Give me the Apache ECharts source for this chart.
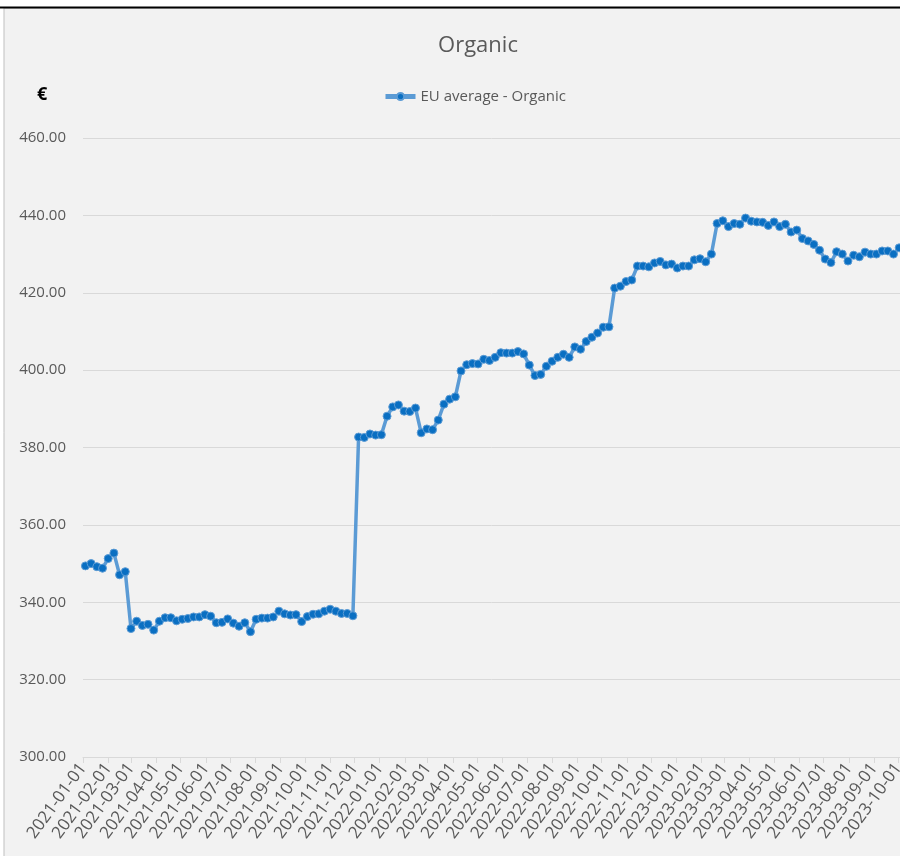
<!DOCTYPE html>
<html><head><meta charset="utf-8">
<script src="https://cdn.jsdelivr.net/npm/echarts@6/dist/echarts.min.js"></script>
<style>html,body{margin:0;padding:0;background:#fff}#c{width:900px;height:856px}</style>
</head><body><div id="c"></div>
<script>
const weeks2021 = ["2021-01-04","2021-01-11","2021-01-18","2021-01-25","2021-02-01","2021-02-08","2021-02-15","2021-02-22","2021-03-01","2021-03-08","2021-03-15","2021-03-22","2021-03-29","2021-04-05","2021-04-12","2021-04-19","2021-04-26","2021-05-03","2021-05-10","2021-05-17","2021-05-24","2021-05-31","2021-06-07","2021-06-14","2021-06-21","2021-06-28","2021-07-05","2021-07-12","2021-07-19","2021-07-26","2021-08-02","2021-08-09","2021-08-16","2021-08-23","2021-08-30","2021-09-06","2021-09-13","2021-09-20","2021-09-27","2021-10-04","2021-10-11","2021-10-18","2021-10-25","2021-11-01","2021-11-08","2021-11-15","2021-11-22","2021-11-29","2021-12-06","2021-12-13","2021-12-20","2021-12-27"];
const values2021 = [349.4,350.0,349.2,348.8,351.3,352.7,347.1,347.9,333.2,335.1,334.0,334.3,332.8,335.1,336.0,336.0,335.2,335.6,335.8,336.2,336.2,336.8,336.4,334.7,334.8,335.7,334.6,333.8,334.7,332.4,335.6,335.9,335.9,336.2,337.7,337.0,336.7,336.8,335.0,336.3,336.9,337.0,337.7,338.2,337.7,337.1,337.1,336.5,382.7,382.6,383.5,383.2];
const weeks2022 = ["2022-01-03","2022-01-10","2022-01-17","2022-01-24","2022-01-31","2022-02-07","2022-02-14","2022-02-21","2022-02-28","2022-03-07","2022-03-14","2022-03-21","2022-03-28","2022-04-04","2022-04-11","2022-04-18","2022-04-25","2022-05-02","2022-05-09","2022-05-16","2022-05-23","2022-05-30","2022-06-06","2022-06-13","2022-06-20","2022-06-27","2022-07-04","2022-07-11","2022-07-18","2022-07-25","2022-08-01","2022-08-08","2022-08-15","2022-08-22","2022-08-29","2022-09-05","2022-09-12","2022-09-19","2022-09-26","2022-10-03","2022-10-10","2022-10-17","2022-10-24","2022-10-31","2022-11-07","2022-11-14","2022-11-21","2022-11-28","2022-12-05","2022-12-12","2022-12-19","2022-12-26"];
const values2022 = [383.3,388.1,390.5,391.0,389.4,389.3,390.2,383.8,384.8,384.6,387.1,391.2,392.5,393.1,399.8,401.4,401.7,401.6,402.8,402.5,403.3,404.5,404.4,404.4,404.8,404.2,401.3,398.6,398.9,401.0,402.3,403.3,404.1,403.3,406.0,405.4,407.4,408.5,409.6,411.1,411.2,421.2,421.7,422.9,423.3,426.9,426.9,426.7,427.7,428.1,427.2,427.4];
const weeks2023 = ["2023-01-02","2023-01-09","2023-01-16","2023-01-23","2023-01-30","2023-02-06","2023-02-13","2023-02-20","2023-02-27","2023-03-06","2023-03-13","2023-03-20","2023-03-27","2023-04-03","2023-04-10","2023-04-17","2023-04-24","2023-05-01","2023-05-08","2023-05-15","2023-05-22","2023-05-29","2023-06-05","2023-06-12","2023-06-19","2023-06-26","2023-07-03","2023-07-10","2023-07-17","2023-07-24","2023-07-31","2023-08-07","2023-08-14","2023-08-21","2023-08-28","2023-09-04","2023-09-11","2023-09-18","2023-09-25","2023-10-02"];
const values2023 = [426.4,426.9,426.9,428.5,428.8,428.0,430.0,437.9,438.6,437.1,437.9,437.7,439.3,438.5,438.3,438.2,437.4,438.3,437.1,437.7,435.7,436.2,434.0,433.4,432.5,431.0,428.7,427.8,430.6,430.0,428.2,429.7,429.3,430.5,430.0,430.0,430.8,430.8,430.0,431.6];
const yTicks = [300,320,340,360,380,400,420,440,460];
const seriesName = "EU average - Organic";
const titleText = "Organic";
const unitText = "€";

const weeks = weeks2021.concat(weeks2022, weeks2023);
const values = values2021.concat(values2022, values2023);
const data = weeks.map((w, i) => [w, values[i]]);

const FONT = "'Open Sans',sans-serif";
const DAY = 86400000;
const chart = echarts.init(document.getElementById('c'), null, {renderer: 'canvas'});
chart.setOption({
  backgroundColor: '#ffffff',
  animation: false,
  graphic: [
    {type: 'rect', z: -10, silent: true, shape: {x: 4, y: 8, width: 900, height: 860}, style: {fill: '#f2f2f2', stroke: '#bfbfbf', lineWidth: 1}},
    {type: 'line', z: -9, silent: true, shape: {x1: 0, y1: 7.5, x2: 900, y2: 7.5}, style: {stroke: '#000', lineWidth: 2}},
    {type: 'text', left: 37, top: 86, style: {text: unitText, fontSize: 18, fontWeight: 'bold', fontFamily: FONT, fill: '#000'}}
  ],
  title: {
    text: titleText, left: 473, top: 30, textAlign: 'center',
    textStyle: {fontSize: 22, fontWeight: 'normal', color: '#595959', fontFamily: FONT}
  },
  legend: {
    left: 378, top: 84, itemWidth: 30, itemHeight: 9, itemGap: 4,
    textStyle: {fontSize: 15, color: '#595959', fontFamily: FONT},
    lineStyle: {width: 5},
    data: [seriesName]
  },
  grid: {left: 83, right: 0, top: 138, bottom: 99, containLabel: false, outerBoundsMode: 'none'},
  xAxis: {
    type: 'time',
    min: '2021-01-01', max: '2023-10-03',
    minInterval: 28 * DAY, maxInterval: 31 * DAY,
    splitNumber: 40,
    axisLine: {show: true, lineStyle: {color: '#d9d9d9', width: 1}},
    axisTick: {show: true, length: 6, lineStyle: {color: '#d9d9d9'}},
    splitLine: {show: false},
    axisLabel: {
      rotate: 54, fontSize: 17, color: '#595959', fontFamily: FONT, margin: 8,
      hideOverlap: false, showMinLabel: true, showMaxLabel: false,
      formatter: function (v) {
        const d = new Date(v);
        const m = d.getMonth() + 1;
        return d.getFullYear() + '-' + (m < 10 ? '0' + m : m) + '-01';
      }
    }
  },
  yAxis: {
    type: 'value', min: yTicks[0], max: yTicks[yTicks.length - 1], interval: 20,
    axisLine: {show: false}, axisTick: {show: false},
    splitLine: {lineStyle: {color: '#d9d9d9', width: 1}},
    axisLabel: {fontSize: 15, color: '#595959', fontFamily: FONT, margin: 17,
      formatter: v => v.toFixed(2)}
  },
  series: [{
    name: seriesName, type: 'line', data: data,
    symbol: 'circle', symbolSize: 8, showAllSymbol: true,
    lineStyle: {color: '#5b9bd5', width: 3.5},
    itemStyle: {color: '#0a6fc2', borderColor: '#5b9bd5', borderWidth: 1},
    clip: false
  }]
});
</script></body></html>
